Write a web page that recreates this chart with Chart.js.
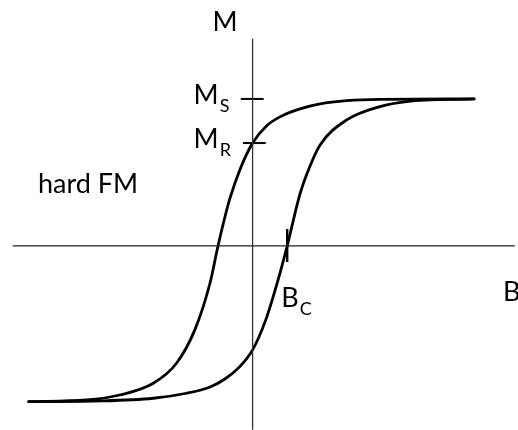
<!DOCTYPE html>
<html>
<head>
<meta charset="utf-8">
<script src="https://cdn.jsdelivr.net/npm/chart.js@4"></script>
<style>
  html, body { margin: 0; padding: 0; background: #fff; }
  #loop { display: block; }
</style>
</head>
<body>
<canvas id="loop" width="518" height="430"></canvas>
<script>
// Hysteresis loop of a hard ferromagnet: B in units of Bc, M in units of Ms

// Descending branch (coming back from +saturation), sorted by B
const bDescending = [-6.47, -4.80, -3.84, -2.87, -2.20, -1.67, -1.23, -1.00, -0.80, -0.66, -0.37, 0.00, 0.40, 0.79, 1.37, 1.95, 2.72, 3.68, 6.40];
const mDescending = [-1.059, -1.048, -1.014, -0.934, -0.798, -0.571, -0.252, 0.000, 0.197, 0.320, 0.517, 0.700, 0.816, 0.878, 0.932, 0.966, 0.988, 0.997, 1.000];

// Ascending branch (coming up from -saturation), sorted by B
const bAscending = [-6.47, -4.33, -2.87, -1.91, -1.23, -0.80, -0.37, 0.00, 0.38, 0.79, 1.00, 1.37, 1.66, 1.95, 2.72, 3.68, 4.45, 6.40];
const mAscending = [-1.059, -1.054, -1.036, -1.002, -0.959, -0.905, -0.821, -0.707, -0.503, -0.186, 0.000, 0.354, 0.544, 0.687, 0.857, 0.948, 0.982, 1.000];

// Marked values on the axes
const satM = 1.0;   // M_S
const remM = 0.70;  // M_R
const coerB = 1.0;  // B_C

const FONT = 'Lato, "Open Sans", sans-serif';

const toPoints = (xs, ys) => xs.map((v, i) => ({ x: v, y: ys[i] }));

// straight helper segments (axes and tick marks)
const segment = (pts, width, color) => ({
    data: pts,
    borderColor: color,
    borderWidth: width,
    showLine: true,
    pointRadius: 0,
    tension: 0,
    borderCapStyle: 'butt'
});

const curve = (pts) => ({
    data: pts,
    borderColor: '#000',
    borderWidth: 2.8,
    showLine: true,
    pointRadius: 0,
    cubicInterpolationMode: 'monotone',
    borderCapStyle: 'round'
});

// draws a symbol with an optional subscript, left aligned on a baseline
function drawSymbol(ctx, main, sub, left, baseline) {
    ctx.font = '27px ' + FONT;
    ctx.fillText(main, left, baseline);
    if (sub) {
        const w = ctx.measureText(main).width;
        ctx.font = '18px ' + FONT;
        ctx.fillText(sub, left + w + 1, baseline + 8);
    }
}

const loopLabels = {
    id: 'loopLabels',
    afterDatasetsDraw(chart) {
        const { ctx, chartArea, scales: { x, y } } = chart;
        const x0 = x.getPixelForValue(0);
        const y0 = y.getPixelForValue(0);
        ctx.save();
        ctx.fillStyle = '#000';
        ctx.textAlign = 'left';
        ctx.textBaseline = 'alphabetic';

        // axis names
        drawSymbol(ctx, 'M', '', x0 - 40, y.getPixelForValue(1.41) - 8);
        drawSymbol(ctx, 'B', '', x.getPixelForValue(7.58) - 12, y0 + 55);

        // marked values
        drawSymbol(ctx, 'M', 'S', x0 - 59, y.getPixelForValue(satM) + 5);
        drawSymbol(ctx, 'M', 'R', x0 - 59, y.getPixelForValue(remM) + 5);
        drawSymbol(ctx, 'B', 'C', x.getPixelForValue(coerB) - 6, y0 + 61);

        // material label
        ctx.font = '27px ' + FONT;
        ctx.fillText('hard FM', chartArea.left + 38, y0 - 53);
        ctx.restore();
    }
};

new Chart(document.getElementById('loop'), {
    type: 'scatter',
    data: {
        datasets: [
            segment([{ x: -6.93, y: 0 }, { x: 7.58, y: 0 }], 1.3, '#222'),
            segment([{ x: 0, y: -1.25 }, { x: 0, y: 1.41 }], 1.3, '#333'),
            segment([{ x: -0.34, y: satM }, { x: 0.32, y: satM }], 2, '#000'),
            segment([{ x: -0.28, y: remM }, { x: 0.38, y: remM }], 2, '#000'),
            segment([{ x: coerB, y: 0.116 }, { x: coerB, y: -0.110 }], 2.4, '#000'),
            curve(toPoints(bDescending, mDescending)),
            curve(toPoints(bAscending, mAscending))
        ]
    },
    options: {
        responsive: false,
        animation: false,
        devicePixelRatio: 1,
        layout: { padding: 0 },
        plugins: {
            legend: { display: false },
            tooltip: { enabled: false }
        },
        scales: {
            x: { type: 'linear', display: false, min: -7.30, max: 7.67 },
            y: { type: 'linear', display: false, min: -1.252, max: 1.673 }
        }
    },
    plugins: [loopLabels]
});
</script>
</body>
</html>
